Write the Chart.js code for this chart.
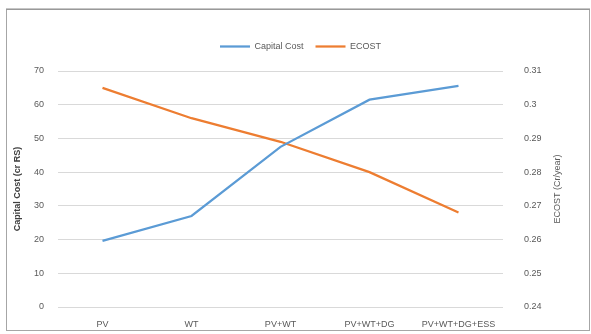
<!DOCTYPE html>
<html>
<head>
<meta charset="utf-8">
<script src="https://cdn.jsdelivr.net/npm/chart.js@4"></script>
<style>
  html, body { margin: 0; padding: 0; background: #fff; }
  #wrap { position: relative; width: 591px; height: 334px; }
</style>
</head>
<body>
<div id="wrap"><canvas id="costChart" width="591" height="334"></canvas></div>
<script>
// System configurations and results
const systems = ['PV', 'WT', 'PV+WT', 'PV+WT+DG', 'PV+WT+DG+ESS'];
const capitalCost = [19.6, 27, 47.5, 61.5, 65.6];
const ecost = [0.305, 0.296, 0.289, 0.280, 0.268];

const costTicks = [0, 10, 20, 30, 40, 50, 60, 70];
const ecostTicks = [0.24, 0.25, 0.26, 0.27, 0.28, 0.29, 0.30, 0.31];

const FONT = 'Liberation Sans, Arial, sans-serif';
const TEXT = '#595959';

// extra room under the legend
const legendGap = {
    id: 'legendGap',
    beforeInit(chart) {
        const fit = chart.legend.fit;
        chart.legend.fit = function () {
            fit.bind(chart.legend)();
            this.height += 10;
        };
    }
};

// outer frame plus the right-hand axis title (reads bottom to top)
const framePlugin = {
    id: 'frame',
    afterDraw(chart) {
        const ctx = chart.ctx;
        const area = chart.chartArea;
        ctx.save();
        ctx.strokeStyle = '#a6a6a6';
        ctx.lineWidth = 1;
        ctx.strokeRect(6.5, 9.5, 583, 321);
        ctx.strokeStyle = '#8c8c8c';
        ctx.beginPath();
        ctx.moveTo(6, 9); ctx.lineTo(590, 9);
        ctx.stroke();

        ctx.translate(558, (area.top + area.bottom) / 2);
        ctx.rotate(-Math.PI / 2);
        ctx.fillStyle = TEXT;
        ctx.font = '9px ' + FONT;
        ctx.textAlign = 'center';
        ctx.textBaseline = 'middle';
        ctx.fillText('ECOST (Cr/year)', 0, 0);
        ctx.restore();
    }
};

const ctx = document.getElementById('costChart').getContext('2d');
new Chart(ctx, {
    type: 'line',
    data: {
        labels: systems,
        datasets: [{
            label: 'Capital Cost',
            data: capitalCost,
            borderColor: '#5b9bd5',
            backgroundColor: '#5b9bd5',
            borderWidth: 2.25,
            pointRadius: 0,
            tension: 0,
            yAxisID: 'y'
        }, {
            label: 'ECOST',
            data: ecost,
            borderColor: '#ed7d31',
            backgroundColor: '#ed7d31',
            borderWidth: 2.25,
            pointRadius: 0,
            tension: 0,
            yAxisID: 'y1'
        }]
    },
    options: {
        responsive: false,
        animation: false,
        layout: { padding: { left: 10, top: 30, right: 0, bottom: 0 } },
        plugins: {
            legend: {
                position: 'top',
                labels: {
                    usePointStyle: true,
                    pointStyle: 'line',
                    pointStyleWidth: 30,
                    color: TEXT,
                    font: { family: FONT, size: 9 },
                    padding: 12
                }
            },
            tooltip: { enabled: false }
        },
        scales: {
            x: {
                offset: true,
                grid: { display: false },
                border: { display: false },
                ticks: { color: TEXT, font: { family: FONT, size: 9 }, padding: 4, maxRotation: 0 },
                afterFit(scale) { scale.height = 27; }
            },
            y: {
                position: 'left',
                min: 0,
                max: 70,
                afterBuildTicks(scale) { scale.ticks = costTicks.map(v => ({ value: v })); },
                grid: { color: '#d9d9d9', drawTicks: false },
                border: { display: false },
                ticks: { color: TEXT, font: { family: FONT, size: 9 }, padding: 14 },
                title: {
                    display: true,
                    text: 'Capital Cost (cr RS)',
                    color: '#404040',
                    font: { family: FONT, size: 9, weight: 'bold' },
                    padding: 2
                },
                afterFit(scale) { scale.width = 48; }
            },
            y1: {
                position: 'right',
                min: 0.24,
                max: 0.31,
                afterBuildTicks(scale) { scale.ticks = ecostTicks.map(v => ({ value: v })); },
                grid: { display: false },
                border: { display: false },
                ticks: {
                    color: TEXT,
                    font: { family: FONT, size: 9 },
                    padding: 13,
                    callback: v => String(Number(v.toFixed(2)))
                },
                afterFit(scale) { scale.width = 88; }
            }
        }
    },
    plugins: [legendGap, framePlugin]
});
</script>
</body>
</html>
